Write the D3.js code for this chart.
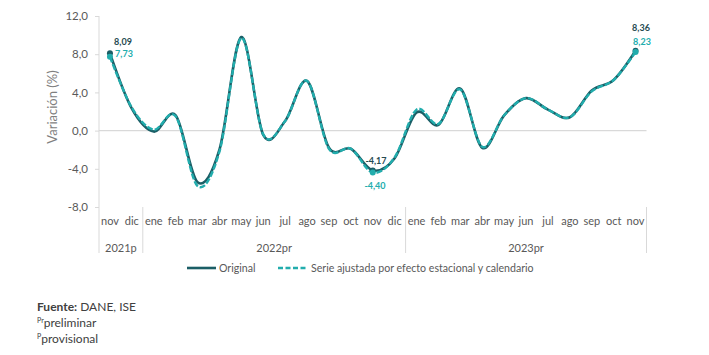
<!DOCTYPE html>
<html>
<head>
<meta charset="utf-8">
<script src="https://cdn.jsdelivr.net/npm/d3@7"></script>
<style>
  html, body { margin: 0; padding: 0; background: #ffffff; }
  svg { display: block; font-family: Lato, "Open Sans", sans-serif; }
</style>
</head>
<body>
<svg id="chart" width="709" height="355"></svg>
<script>
// ---- data ----
const months = ["nov","dic","ene","feb","mar","abr","may","jun","jul","ago","sep","oct","nov",
                "dic","ene","feb","mar","abr","may","jun","jul","ago","sep","oct","nov"];
const years = [
  { label: "2021p",  from: 0,  to: 1 },
  { label: "2022pr", from: 2,  to: 13 },
  { label: "2023pr", from: 14, to: 24 }
];
const original = [8.09, 2.3, -0.1, 1.6, -5.4, -2.0, 9.8, -0.45, 1.0, 5.2, -1.8, -1.9, -4.17,
                  -2.9, 1.9, 0.6, 4.4, -1.8, 1.6, 3.4, 2.2, 1.4, 4.2, 5.3, 8.36];
const ajustada = [7.73, 2.4, 0.1, 1.5, -5.8, -2.2, 9.7, -0.4, 1.0, 5.2, -1.9, -1.9, -4.40,
                  -2.8, 2.2, 0.7, 4.3, -1.7, 1.6, 3.4, 2.2, 1.4, 4.1, 5.3, 8.23];
const yTicks = [-8, -4, 0, 4, 8, 12];
const labelled = [0, 12, 24];

(function () {
// ---- layout ----
const svg = d3.select("#chart");
const mLeft = 99, mRight = 646.5, mTop = 16, mBottom = 207;
const cOrig = "#1b5e66", cAdj = "#22adad", cText = "#595959", cGrid = "#d9d9d9";

const x = d3.scaleBand().domain(d3.range(months.length)).range([mLeft, mRight]).padding(0);
const y = d3.scaleLinear().domain([-8, 12]).range([mBottom, mTop]);
const cx = i => x(i) + x.bandwidth() / 2;
const fmt = v => d3.format(".2f")(v).replace(".", ",").replace("\u2212", "-");
const fmt1 = v => d3.format(".1f")(v).replace(".", ",").replace("\u2212", "-");

// y axis
const yAxis = d3.axisLeft(y).tickValues(yTicks).tickFormat(fmt1).tickSize(4).tickPadding(7);
const gy = svg.append("g").attr("transform", `translate(${mLeft},0)`).call(yAxis);
gy.select(".domain").remove();
gy.selectAll(".tick line").attr("stroke", cGrid);
gy.selectAll(".tick text").attr("fill", cText).attr("font-size", 11.5).attr("font-family", "Lato, sans-serif");
svg.append("line").attr("x1", mLeft).attr("x2", mLeft).attr("y1", mTop).attr("y2", 253)
  .attr("stroke", cGrid).attr("stroke-width", 1);

// zero line
svg.append("line").attr("x1", mLeft).attr("x2", mRight).attr("y1", y(0)).attr("y2", y(0))
  .attr("stroke", cGrid).attr("stroke-width", 1.2);

// y title
svg.append("text").attr("transform", `translate(57,107) rotate(-90)`)
  .attr("text-anchor", "middle").attr("fill", "#7f7f7f").attr("font-size", 13)
  .text("Variación (%)");

// x axis categories
const xAxis = d3.axisBottom(x).tickFormat(i => months[i]).tickSize(0).tickPadding(10);
const gx = svg.append("g").attr("transform", `translate(0,${mBottom})`).call(xAxis);
gx.select(".domain").remove();
gx.selectAll(".tick text").attr("fill", cText).attr("font-size", 11).attr("font-family", "Lato, sans-serif");

// year groups
years.forEach(g => {
  const x0 = x(g.from), x1 = x(g.to) + x.bandwidth();
  svg.append("text").attr("x", (x0 + x1) / 2).attr("y", 252).attr("text-anchor", "middle")
    .attr("fill", cText).attr("font-size", 11).text(g.label);
  svg.append("line").attr("x1", x1).attr("x2", x1).attr("y1", mBottom).attr("y2", 253)
    .attr("stroke", cGrid).attr("stroke-width", 1);
});

// lines
const line = d3.line().x((d, i) => cx(i)).y(d => y(d)).curve(d3.curveCardinal.tension(0));
svg.append("path").datum(original).attr("d", line).attr("fill", "none")
  .attr("stroke", cOrig).attr("stroke-width", 2.6);
svg.append("path").datum(ajustada).attr("d", line).attr("fill", "none")
  .attr("stroke", cAdj).attr("stroke-width", 2.4).attr("stroke-dasharray", "6,2");

// markers and labels
labelled.forEach(i => {
  svg.append("circle").attr("cx", cx(i)).attr("cy", y(original[i])).attr("r", 3).attr("fill", cOrig);
  svg.append("circle").attr("cx", cx(i)).attr("cy", y(ajustada[i])).attr("r", 3).attr("fill", cAdj);
});
const labelPos = {
  0:  { o: [123, 45], a: [124, 57] },
  12: { o: [376, 164], a: [375, 189] },
  24: { o: [641, 31], a: [642, 45] }
};
labelled.forEach(i => {
  const p = labelPos[i];
  svg.append("text").attr("x", p.o[0]).attr("y", p.o[1]).attr("text-anchor", "middle")
    .attr("font-size", 9).attr("font-weight", "bold").attr("fill", "#264a50").text(fmt(original[i]));
  svg.append("text").attr("x", p.a[0]).attr("y", p.a[1]).attr("text-anchor", "middle")
    .attr("font-size", 9).attr("font-weight", "bold").attr("fill", cAdj).text(fmt(ajustada[i]));
});

// legend
const lg = svg.append("g").attr("font-size", 10.6).attr("fill", cText);
lg.append("line").attr("x1", 187).attr("x2", 216).attr("y1", 268).attr("y2", 268)
  .attr("stroke", cOrig).attr("stroke-width", 2.6);
lg.append("text").attr("x", 219).attr("y", 272).text("Original");
lg.append("line").attr("x1", 278).attr("x2", 308).attr("y1", 268).attr("y2", 268)
  .attr("stroke", cAdj).attr("stroke-width", 2.4).attr("stroke-dasharray", "5,2.5");
lg.append("text").attr("x", 311).attr("y", 272).text("Serie ajustada por efecto estacional y calendario");

// footnotes
const fn = svg.append("g").attr("font-size", 12).attr("fill", "#404040");
const t1 = fn.append("text").attr("x", 37).attr("y", 311);
t1.append("tspan").attr("font-weight", "bold").text("Fuente:");
t1.append("tspan").text(" DANE, ISE");
const t2 = fn.append("text").attr("x", 37).attr("y", 327);
t2.append("tspan").attr("font-size", 7).attr("dy", -4).text("Pr");
t2.append("tspan").attr("dy", 4).text("preliminar");
const t3 = fn.append("text").attr("x", 37).attr("y", 343);
t3.append("tspan").attr("font-size", 7).attr("dy", -4).text("P");
t3.append("tspan").attr("dy", 4).text("provisional");
})();
</script>
</body>
</html>
